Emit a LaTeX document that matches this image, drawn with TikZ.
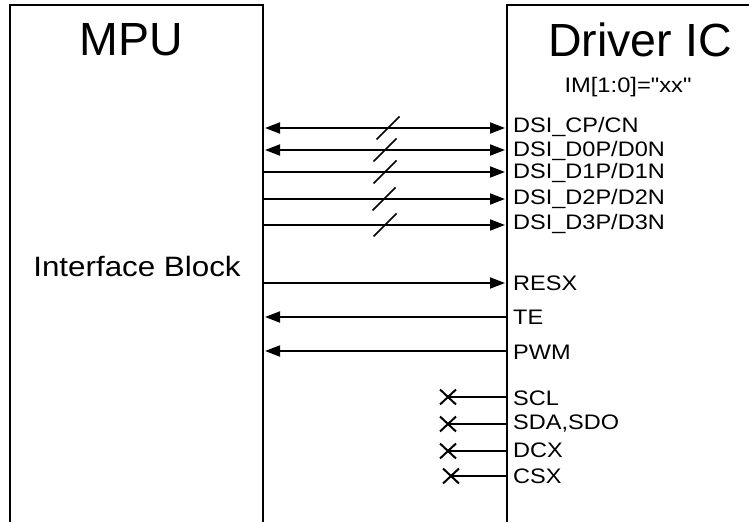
\documentclass[tikz,border=0pt]{standalone}
\usepackage{fontspec}
\usepackage{graphicx}
\setmainfont{Liberation Sans}[Ligatures=TeXOff]
\usetikzlibrary{arrows.meta,calc}
\newcommand{\hstretch}[2]{\scalebox{#1}[1]{#2}}
\tikzset{
  wire/.style={line width=1.8pt},
  boxline/.style={line width=1.6pt},
  tip/.tip={Triangle[length=15pt,width=11pt]},
  title/.style={font=\fontsize{46.5}{50}\selectfont, inner sep=0pt},
  midtext/.style={font=\fontsize{28}{32}\selectfont, inner sep=0pt},
  pin/.style={font=\fontsize{21}{24}\selectfont, inner sep=0pt, anchor=west},
  slash/.style={line width=1.6pt},
  xmark/.style={line width=2pt}
}
\begin{document}
\begin{tikzpicture}[x=1pt,y=-1pt]
\useasboundingbox (0,0) rectangle (749,522);
% boxes (open at the bottom)
\draw[boxline] (10,522) -- (10,5) -- (263,5) -- (263,522);
\draw[boxline] (507,522) -- (507,5) -- (749,5);
\node[title] (mpu) at (131,40) {MPU};
\node[title] (drv) at (640,40) {Driver IC};
\node[midtext] (ifb) at (137,266) {\hstretch{1.12}{Interface Block}};
\node[font=\fontsize{21}{24}\selectfont, inner sep=0pt] (im) at (628,87) {\hstretch{1.13}{IM[1:0]="xx"}};
% pin labels
\node[pin] (cp)  at (513,127) {\hstretch{1.12}{DSI\_CP/CN}};
\node[pin] (d0)  at (513,151) {\hstretch{1.12}{DSI\_D0P/D0N}};
\node[pin] (d1)  at (513,173) {\hstretch{1.12}{DSI\_D1P/D1N}};
\node[pin] (d2)  at (513,199) {\hstretch{1.12}{DSI\_D2P/D2N}};
\node[pin] (d3)  at (513,224) {\hstretch{1.12}{DSI\_D3P/D3N}};
\node[pin] (resx) at (513,283) {\hstretch{1.12}{RESX}};
\node[pin] (te)  at (513,317) {\hstretch{1.12}{TE}};
\node[pin] (pwm) at (513,352) {\hstretch{1.12}{PWM}};
\node[pin] (scl) at (513,398) {\hstretch{1.12}{SCL}};
\node[pin] (sda) at (513,424) {\hstretch{1.12}{SDA,SDO}};
\node[pin] (dcx) at (513,450) {\hstretch{1.12}{DCX}};
\node[pin] (csx) at (513,476) {\hstretch{1.12}{CSX}};
% edge coordinates
\foreach \n/\y in {1/128,2/150,3/172,4/199,5/225,6/283,7/317,8/351}{
  \coordinate (m\n) at (263,\y);
  \coordinate (r\n) at (507,\y);
}
\foreach \n/\y/\x in {9/397/448,10/424/448,11/451/448,12/476/451}{
  \coordinate (x\n) at (\x,\y);
  \coordinate (r\n) at (507,\y);
}
% DSI lanes
\draw[wire,{tip}-{tip}, shorten <=2pt, shorten >=2pt] (m1) -- (r1);
\draw[wire,{tip}-{tip}, shorten <=2pt, shorten >=2pt] (m2) -- (r2);
\draw[wire,-{tip}, shorten >=2pt] (m3) -- (r3);
\draw[wire,-{tip}, shorten >=2pt] (m4) -- (r4);
\draw[wire,-{tip}, shorten >=2pt] (m5) -- (r5);
% bus slashes
\foreach \cx/\cy in {388/128,385/150,385/172,384/199,385/225}{
  \draw[slash] (\cx-11.5,\cy+11.5) -- (\cx+11.5,\cy-11.5);
}
% control lines
\draw[wire,-{tip}, shorten >=2pt] (m6) -- (r6);
\draw[wire,-{tip}, shorten >=2pt] (r7) -- (m7);
\draw[wire,-{tip}, shorten >=2pt] (r8) -- (m8);
% unused serial pins
\foreach \n in {9,10,11,12}{
  \draw[wire] (x\n) -- (r\n);
  \draw[xmark] ($(x\n)+(-8,-7.5)$) -- ($(x\n)+(8,7.5)$);
  \draw[xmark] ($(x\n)+(-8,7.5)$) -- ($(x\n)+(8,-7.5)$);
}
\end{tikzpicture}
\end{document}
